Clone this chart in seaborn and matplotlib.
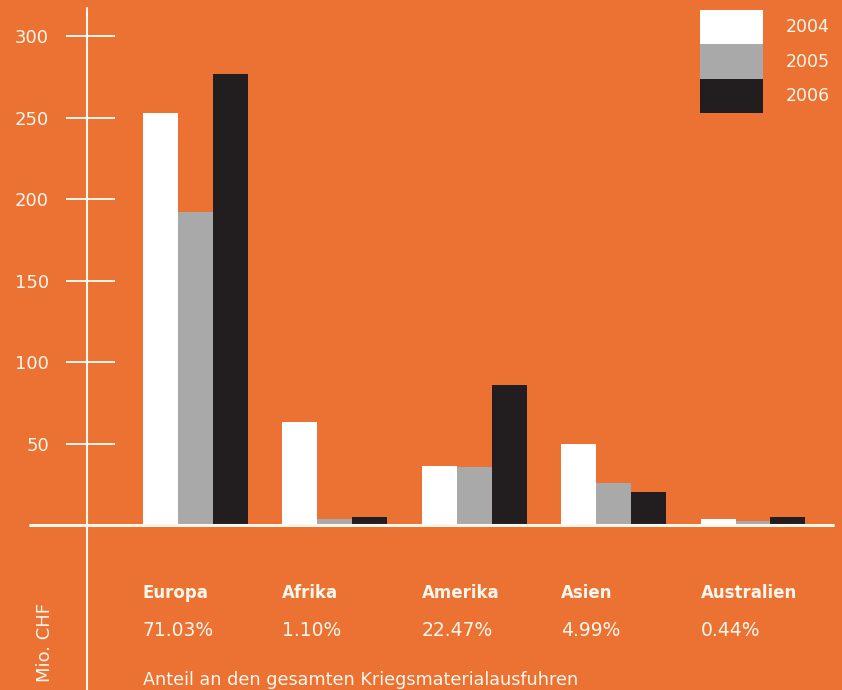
import matplotlib
matplotlib.use("Agg")
import matplotlib.pyplot as plt
from matplotlib.lines import Line2D
from matplotlib.transforms import blended_transform_factory
import seaborn as sns
import pandas as pd

regions = ["Europa", "Afrika", "Amerika", "Asien", "Australien"]
years = ["2004", "2005", "2006"]
v2004 = [253, 63.5, 36, 50, 3.5]
v2005 = [192, 3.5, 35.5, 26, 2.5]
v2006 = [277, 5, 86, 20, 5]
shares = ["71.03%", "1.10%", "22.47%", "4.99%", "0.44%"]
yticks = [50, 100, 150, 200, 250, 300]
ylabel = "Mio. CHF"
footnote = "Anteil an den gesamten Kriegsmaterialausfuhren"

rows = []
for yr, vals in zip(years, [v2004, v2005, v2006]):
    for r, v in zip(regions, vals):
        rows.append({"Region": r, "Jahr": yr, "Wert": v})
df = pd.DataFrame(rows)

BG = "#EB7232"
TXT = "#FFF6EC"
palette = ["#FFFFFF", "#A9A9A9", "#221E20"]

sns.set_theme(style="white")
plt.rcParams["font.family"] = ["DejaVu Sans"]

W, H = 842, 690
fig = plt.figure(figsize=(W / 100, H / 100), dpi=100, facecolor=BG)
ax = fig.add_axes([88 / W, (H - 525) / H, (833 - 88) / W, (525 - 8) / H])
ax.set_facecolor(BG)

sns.barplot(data=df, x="Region", y="Wert", hue="Jahr", order=regions,
            hue_order=years, palette=palette, width=0.753, gap=0,
            saturation=1, linewidth=0, ax=ax)

ax.set_xlim(-0.771, 4.574)
ax.set_ylim(0, 317.2)
for s in ax.spines.values():
    s.set_visible(False)
ax.set_xlabel("")
ax.set_ylabel("")
ax.set_xticks([])
ax.set_yticks(yticks, [str(t) for t in yticks])
ax.tick_params(axis="y", length=0, pad=28, labelsize=13, labelcolor=TXT)

# tick marks crossing the axis
trans_y = blended_transform_factory(ax.transAxes, ax.transData)
ax.hlines(yticks, (66 - 88) / 745, (115 - 88) / 745, transform=trans_y,
          colors=TXT, linewidth=1.4, clip_on=False)

# axis lines
fig.add_artist(Line2D([87 / W, 87 / W], [0, 1 - 8 / H], color=TXT, linewidth=1.5))
fig.add_artist(Line2D([30 / W, 833 / W], [1 - 525 / H, 1 - 525 / H], color=TXT, linewidth=2.2))

# legend
handles, labels = ax.get_legend_handles_labels()
if ax.get_legend() is not None:
    ax.get_legend().remove()
fig.legend(handles, labels, loc="upper left", bbox_to_anchor=(700 / W, 1 - 10 / H),
           frameon=False, fontsize=12.5, labelcolor=TXT, handlelength=3.62,
           handleheight=2.68, labelspacing=0, handletextpad=1.3, borderpad=0,
           borderaxespad=0)

# category labels and shares
tr = blended_transform_factory(ax.transData, fig.transFigure)
for i, (r, s) in enumerate(zip(regions, shares)):
    x0 = i - 0.3765
    ax.text(x0, 1 - 593 / H, r, transform=tr, ha="left", va="center",
            fontsize=12, fontweight="bold", color=TXT, clip_on=False)
    ax.text(x0, 1 - 631 / H, s, transform=tr, ha="left", va="center",
            fontsize=13.5, color=TXT, clip_on=False)
ax.text(-0.3765, 1 - 680 / H, footnote, transform=tr, ha="left", va="center",
        fontsize=12.7, color=TXT, clip_on=False)

fig.text(45 / W, 1 - 643 / H, ylabel, rotation=90, ha="center", va="center",
         fontsize=13, color=TXT)

fig.savefig("out.png", dpi=100, facecolor=BG)
